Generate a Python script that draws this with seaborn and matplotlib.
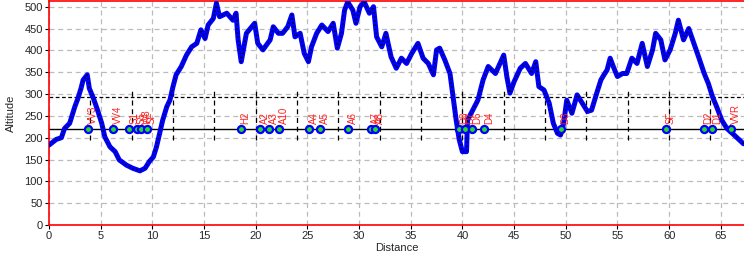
import matplotlib
matplotlib.use("Agg")
import matplotlib.pyplot as plt
import seaborn as sns
import pandas as pd

# ---- data ----
distance = [0.0, 0.7, 1.2, 1.5, 2.0, 2.2, 2.5, 2.8, 3.1, 3.3, 3.7, 3.9, 4.3, 4.7, 5.1, 5.4,
            5.9, 6.4, 6.8, 7.5, 8.1, 8.8, 9.3, 9.7, 10.1, 10.4, 10.7, 11.0, 11.4, 11.7,
            12.0, 12.3, 12.8, 13.3, 13.8, 14.3, 14.7, 15.1, 15.4, 15.9, 16.2, 16.5, 17.2,
            17.8, 18.1, 18.3, 18.6, 19.1, 19.9, 20.2, 20.7, 21.4, 21.7, 22.2, 22.6, 23.1,
            23.5, 23.8, 24.3, 24.7, 25.1, 25.4, 25.9, 26.4, 27.0, 27.5, 27.9, 28.3, 28.6,
            28.9, 29.4, 29.7, 30.1, 30.5, 31.0, 31.4, 31.7, 32.2, 32.6, 33.1, 33.6, 34.1,
            34.6, 35.1, 35.7, 36.2, 36.7, 37.2, 37.5, 37.8, 38.3, 38.8, 39.1, 39.4, 39.7,
            40.0, 40.4, 40.5, 41.0, 41.5, 42.0, 42.5, 43.2, 44.0, 44.3, 44.6, 45.0, 45.6,
            46.1, 46.7, 47.1, 47.4, 47.9, 48.4, 48.8, 49.2, 49.5, 49.8, 50.1, 50.6, 51.1,
            51.6, 52.1, 52.5, 53.0, 53.4, 53.7, 54.0, 54.3, 54.6, 55.0, 55.5, 55.9, 56.4,
            56.9, 57.4, 57.9, 58.4, 58.7, 59.2, 59.6, 60.1, 60.6, 60.9, 61.4, 61.9, 62.4,
            62.9, 63.4, 63.8, 64.2, 64.6, 65.1, 65.6, 66.3, 67.2]
altitude = [183, 196, 200, 221, 233, 248, 271, 290, 313, 332, 344, 313, 290, 263, 233, 202,
            179, 168, 149, 137, 130, 124, 130, 145, 156, 179, 210, 240, 271, 286,
            317, 344, 363, 389, 408, 416, 447, 427, 458, 473, 508, 477, 485,
            469, 485, 424, 374, 439, 462, 416, 401, 424, 454, 439, 439, 454,
            481, 431, 439, 393, 374, 408, 439, 458, 443, 462, 405, 439, 492,
            511, 492, 462, 500, 511, 485, 500, 431, 408, 439, 385, 359, 382,
            370, 393, 416, 382, 370, 344, 401, 405, 378, 347, 294, 240, 195,
            168, 168, 240, 263, 286, 332, 363, 347, 389, 340, 302, 328, 359,
            370, 347, 374, 317, 309, 279, 233, 210, 206, 233, 286, 256, 298,
            279, 260, 263, 302, 332, 344, 355, 382, 363, 340, 347, 347, 382,
            370, 416, 363, 401, 439, 424, 378, 401, 439, 469, 424, 450, 416,
            382, 347, 324, 294, 271, 240, 221, 206, 186]

wp_names = ["VV3", "VV4", "S1", "S5", "W8", "SF", "H2", "A2", "A3", "A10", "A4", "A5",
            "A6", "A7", "A8", "D8", "D7", "D6", "D4", "D3", "SF", "D2", "D1", "VVR"]
wp_dist = [3.77, 6.15, 7.76, 8.47, 8.95, 9.44, 18.55, 20.45, 21.29, 22.3, 25.15, 26.18,
           28.96, 31.2, 31.56, 39.7, 40.3, 40.94, 42.07, 49.5, 59.7, 63.34, 64.2, 66.0]
wp_alt = 220

km_marks = [4, 8, 12, 16, 20, 24, 28, 32, 36, 40, 44, 48, 52, 56, 60, 64]
ref_level = 292

x_ticks = [0, 5, 10, 15, 20, 25, 30, 35, 40, 45, 50, 55, 60, 65]
y_ticks = [0, 50, 100, 150, 200, 250, 300, 350, 400, 450, 500]

# ---- plot ----
sns.set_style("white")
plt.rcParams['font.family'] = ['Liberation Sans', 'DejaVu Sans']

fig = plt.figure(figsize=(7.44, 2.57), dpi=100)
ax = fig.add_axes([49 / 744, 32 / 257, 695 / 744, 224 / 257])

ax.set_xlim(0, 67.25)
ax.set_ylim(0, 513)
ax.set_xticks(x_ticks)
ax.set_yticks(y_ticks)
ax.grid(True, color="#bcbcbc", linestyle=(0, (4, 3)), linewidth=0.9)
ax.set_axisbelow(True)

# reference lines
ax.axhline(ref_level, color="black", linestyle=(0, (3, 2)), linewidth=0.9, zorder=2)
ax.axhline(wp_alt, color="black", linewidth=1.0, zorder=2)
ax.vlines(km_marks, 195, 310, colors="black", linestyles=(0, (4, 3)), linewidth=0.9, zorder=2)

df = pd.DataFrame({"Distance": distance, "Altitude": altitude})
sns.lineplot(data=df, x="Distance", y="Altitude", ax=ax, color="#0000ff",
             linewidth=3.6, sort=False, estimator=None, zorder=3)
sns.lineplot(data=df, x="Distance", y="Altitude", ax=ax, color="black",
             linewidth=1.0, linestyle=(0, (1, 2)), sort=False, estimator=None, zorder=4)

wdf = pd.DataFrame({"d": wp_dist, "a": [wp_alt] * len(wp_dist)})
sns.scatterplot(data=wdf, x="d", y="a", ax=ax, color="#22dd22", edgecolor="#0000ff",
                linewidth=1.6, s=26, zorder=5)

for name, d in zip(wp_names, wp_dist):
    ax.text(d, 232, name, rotation=90, ha="left", va="bottom", color="#ff2020",
            fontsize=7, zorder=6)

for side in ["left", "top", "bottom"]:
    ax.spines[side].set_color("red")
    ax.spines[side].set_linewidth(1.2)
ax.spines["right"].set_visible(False)

ax.tick_params(axis="both", which="major", length=3, width=0.8, color="black",
               labelsize=8, pad=1.5, left=True, bottom=True)
ax.set_xlabel("Distance", fontsize=8, labelpad=1)
ax.set_ylabel("Altitude", fontsize=8, labelpad=6)

fig.savefig("out.png", dpi=100)
